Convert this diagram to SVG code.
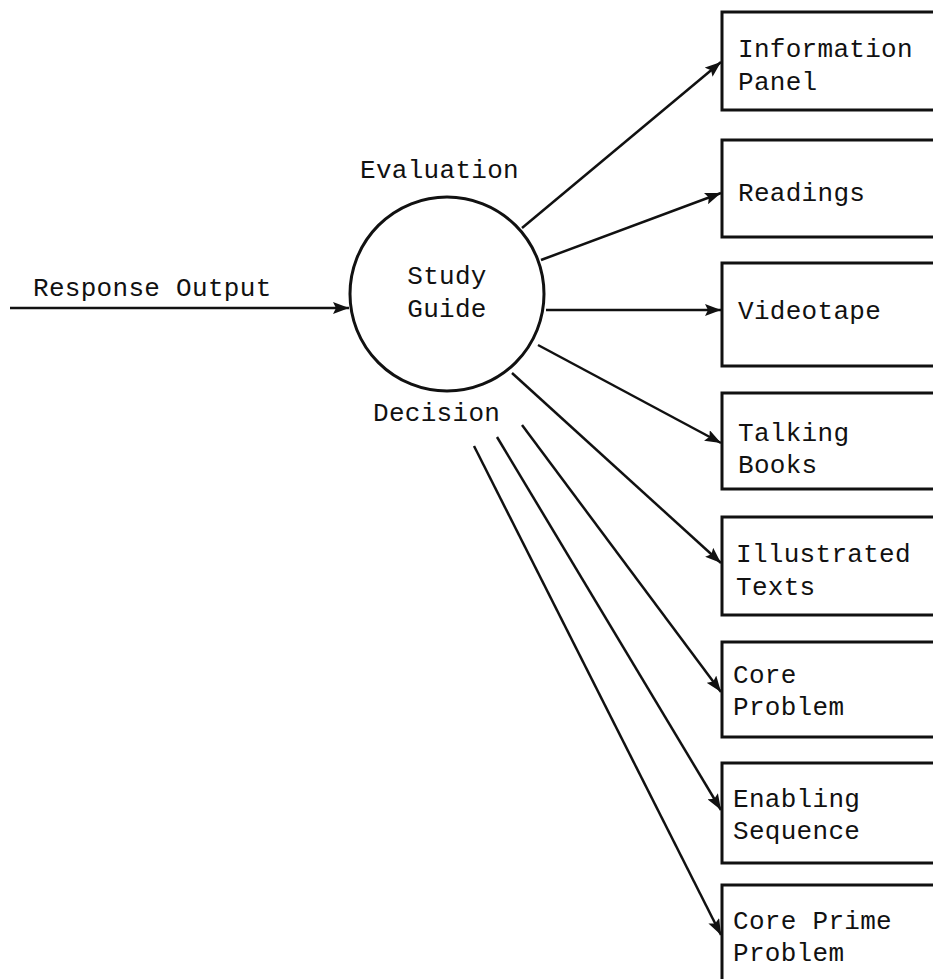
<svg xmlns="http://www.w3.org/2000/svg" width="933" height="979" viewBox="0 0 933 979">
<defs>
<style>
text{font-family:"Liberation Mono","Courier New",monospace;font-size:26px;fill:#111;letter-spacing:0.3px}
.box{fill:#fff;stroke:#111;stroke-width:3}
.edge{stroke:#111;stroke-width:2.5;fill:none;marker-end:url(#ah)}
</style>
<marker id="ah" markerWidth="16" markerHeight="12" refX="16" refY="6" orient="auto" markerUnits="userSpaceOnUse" viewBox="0 0 16 12">
<path d="M0,0 L16,6 L0,12 L3,6 Z" fill="#111"/>
</marker>
</defs>
<rect width="933" height="979" fill="#fff"/>
<g id="connectors">
<line class="edge" x1="10" y1="308" x2="349" y2="308"/>
<line class="edge" x1="522" y1="228" x2="721" y2="62"/>
<line class="edge" x1="541" y1="260" x2="721" y2="193"/>
<line class="edge" x1="546" y1="310" x2="721" y2="310"/>
<line class="edge" x1="538" y1="345" x2="721" y2="443"/>
<line class="edge" x1="512" y1="373" x2="721" y2="563"/>
<line class="edge" x1="522" y1="425" x2="721" y2="692"/>
<line class="edge" x1="497" y1="437" x2="721" y2="810"/>
<line class="edge" x1="474" y1="446" x2="721" y2="935"/>
</g>
<g id="response-label"><text x="33" y="296">Response Output</text></g>
<g id="study-guide">
<circle cx="447" cy="294" r="97" fill="#fff" stroke="#111" stroke-width="3"/>
<text x="447" y="284" text-anchor="middle">Study</text>
<text x="447" y="317" text-anchor="middle">Guide</text>
</g>
<g id="evaluation-label"><text x="360" y="178">Evaluation</text></g>
<g id="decision-label"><text x="373" y="421">Decision</text></g>
<g id="information-panel"><rect class="box" x="722" y="12" width="230" height="98"/><text x="738" y="57">Information</text><text x="738" y="90">Panel</text></g>
<g id="readings"><rect class="box" x="722" y="140" width="230" height="97"/><text x="738" y="201">Readings</text></g>
<g id="videotape"><rect class="box" x="722" y="263" width="230" height="103"/><text x="738" y="319">Videotape</text></g>
<g id="talking-books"><rect class="box" x="722" y="393" width="230" height="96"/><text x="738" y="441">Talking</text><text x="738" y="473">Books</text></g>
<g id="illustrated-texts"><rect class="box" x="722" y="517" width="230" height="98"/><text x="736" y="562">Illustrated</text><text x="736" y="595">Texts</text></g>
<g id="core-problem"><rect class="box" x="722" y="642" width="230" height="95"/><text x="733" y="683">Core</text><text x="733" y="715">Problem</text></g>
<g id="enabling-sequence"><rect class="box" x="722" y="763" width="230" height="100"/><text x="733" y="807">Enabling</text><text x="733" y="839">Sequence</text></g>
<g id="core-prime-problem"><rect class="box" x="722" y="885" width="230" height="110"/><text x="733" y="929">Core Prime</text><text x="733" y="961">Problem</text></g>
</svg>
